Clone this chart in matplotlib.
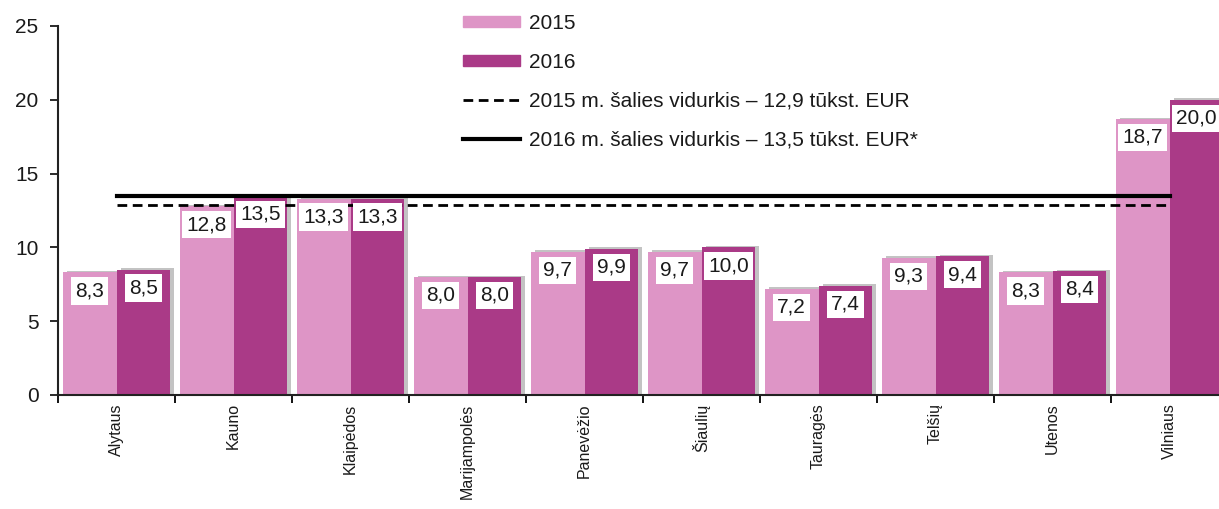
import matplotlib
matplotlib.use("Agg")
import matplotlib.pyplot as plt
import matplotlib.patheffects as pe
from matplotlib.patches import Patch
from matplotlib.lines import Line2D
import numpy as np

plt.rcParams['font.family'] = ['Liberation Sans', 'DejaVu Sans']

# Data
regions = ["Alytaus", "Kauno", "Klaipėdos", "Marijampolės", "Panevėžio",
           "Šiaulių", "Tauragės", "Telšių", "Utenos", "Vilniaus"]
val_2015 = [8.3, 12.8, 13.3, 8.0, 9.7, 9.7, 7.2, 9.3, 8.3, 18.7]
val_2016 = [8.5, 13.5, 13.3, 8.0, 9.9, 10.0, 7.4, 9.4, 8.4, 20.0]
avg_2015 = 12.9
avg_2016 = 13.5
legend_labels = ["2015", "2016",
                 "2015 m. šalies vidurkis – 12,9 tūkst. EUR",
                 "2016 m. šalies vidurkis – 13,5 tūkst. EUR*"]

c15 = "#DE95C6"
c16 = "#AA3A87"
txt = "#1a1a1a"

W, H = 1219, 509
fig = plt.figure(figsize=(W / 100, H / 100), dpi=100)
ax = fig.add_axes([58 / W, (H - 395) / H, (1228 - 58) / W, (395 - 26) / H])

x = np.arange(len(regions))
bw = 0.46
shadow = [pe.SimplePatchShadow(offset=(3, 1), shadow_rgbFace="#555555", alpha=0.35), pe.Normal()]
b1 = ax.bar(x - bw / 2, val_2015, width=bw, color=c15, zorder=2)
b2 = ax.bar(x + bw / 2, val_2016, width=bw, color=c16, zorder=2)
for b in list(b1) + list(b2):
    b.set_path_effects(shadow)

# national averages
ax.plot([0, len(regions) - 1], [avg_2015, avg_2015], color="black", lw=2, ls=(0, (3.5, 2)), zorder=3)
ax.plot([0, len(regions) - 1], [avg_2016, avg_2016], color="black", lw=3, zorder=3)

# value labels
def fmt(v):
    return f"{v:.1f}".replace(".", ",")

for xs, vals in ((x - bw / 2, val_2015), (x + bw / 2, val_2016)):
    for xi, v in zip(xs, vals):
        ax.text(xi, v - 1.25, fmt(v), ha="center", va="center", fontsize=15, color=txt,
                zorder=4, bbox=dict(boxstyle="square,pad=0.2", fc="white", ec="none"))

ax.set_xlim(-0.5, len(regions) - 0.5)
ax.set_ylim(0, 25)
ax.set_yticks(range(0, 26, 5))
ax.tick_params(axis="y", labelsize=15, colors=txt, length=6, width=1.3, pad=8)
ax.set_xticks(np.arange(-0.5, len(regions), 1.0))
ax.set_xticklabels([])
ax.tick_params(axis="x", which="major", length=6, width=1.3, direction="out")
ax.set_xticks(x, minor=True)
ax.set_xticklabels(regions, minor=True, rotation=90, fontsize=11.5, color=txt, va="top")
ax.tick_params(axis="x", which="minor", length=0, pad=6)

for s in ("top", "right"):
    ax.spines[s].set_visible(False)
for s in ("left", "bottom"):
    ax.spines[s].set_linewidth(1.5)
    ax.spines[s].set_color("#222222")

handles = [Patch(color=c15), Patch(color=c16),
           Line2D([], [], color="black", lw=2, ls=(0, (3.5, 2))),
           Line2D([], [], color="black", lw=3)]
fig.legend(handles, legend_labels, loc="upper left", bbox_to_anchor=(463 / W, 1 - 14 / H),
           frameon=False, fontsize=15, handlelength=2.75, handleheight=0.45,
           handletextpad=0.4, labelspacing=0.95, borderpad=0, borderaxespad=0,
           labelcolor=txt)

fig.savefig("out.png", dpi=100)
